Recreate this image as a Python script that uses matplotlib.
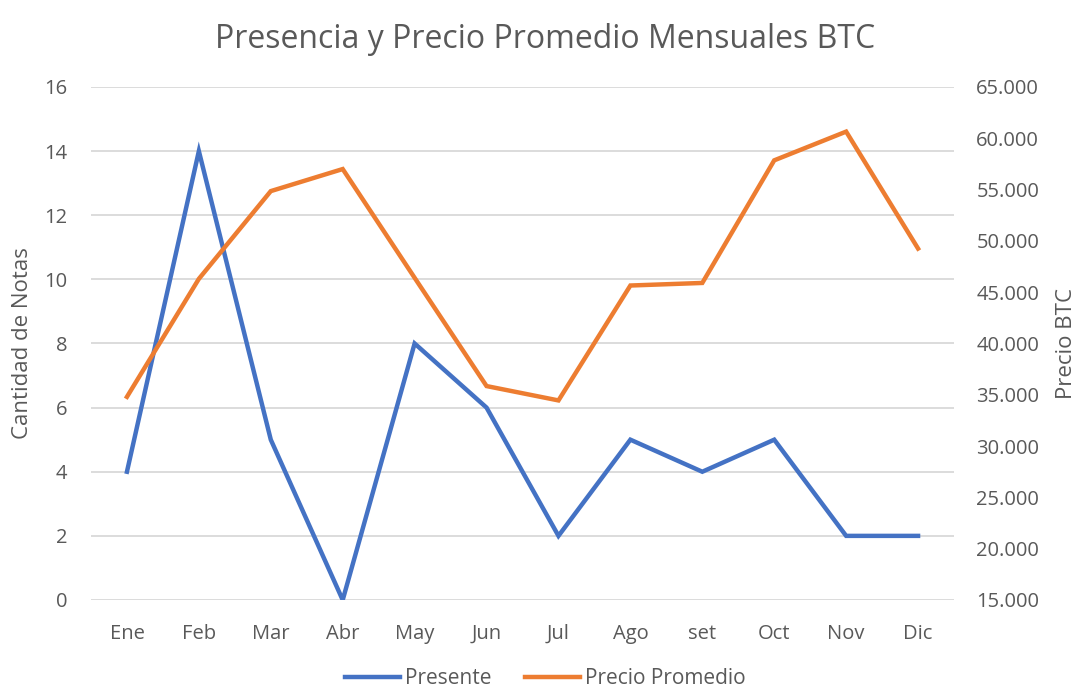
import matplotlib.pyplot as plt
from matplotlib.ticker import FuncFormatter, MultipleLocator

# datos
meses = ['Ene', 'Feb', 'Mar', 'Abr', 'May', 'Jun', 'Jul', 'Ago', 'set', 'Oct', 'Nov', 'Dic']
presente = [4, 14, 5, 0, 8, 6, 2, 5, 4, 5, 2, 2]
precio_promedio = [34800, 46300, 54850, 57000, 46400, 35850, 34450, 45650, 45900, 57850, 60650, 49250]

gris = '#595959'
azul = '#4472C4'
naranja = '#ED7D31'

plt.rcParams['font.family'] = ['Open Sans', 'DejaVu Sans']

fig = plt.figure(figsize=(10.78, 6.93), dpi=100)
ax = fig.add_axes([0.0844, 0.1342, 0.8006, 0.7403])
ax2 = ax.twinx()

x = range(len(meses))
l1, = ax.plot(x, presente, color=azul, lw=3.2, solid_joinstyle='miter', label='Presente')
l2, = ax2.plot(x, precio_promedio, color=naranja, lw=3.2, solid_joinstyle='miter', label='Precio Promedio')

ax.set_xlim(-0.5, len(meses) - 0.5)
ax.set_ylim(0, 16)
ax.yaxis.set_major_locator(MultipleLocator(2))
ax2.set_ylim(15000, 65000)
ax2.yaxis.set_major_locator(MultipleLocator(5000))
ax2.yaxis.set_major_formatter(FuncFormatter(lambda v, p: f'{int(v):,}'.replace(',', '.')))

ax.set_xticks(list(x))
ax.set_xticklabels(meses)
ax.grid(axis='y', color='#D9D9D9', lw=1.3)
ax.set_axisbelow(True)

for a in (ax, ax2):
    for s in a.spines.values():
        s.set_visible(False)
    a.tick_params(length=0, labelsize=14.5, colors=gris)
ax.tick_params(axis='y', pad=17)
ax.tick_params(axis='x', pad=17)
ax2.tick_params(axis='y', pad=16)

ax.set_ylabel('Cantidad de Notas', fontsize=16, color=gris, labelpad=8)
ax2.set_ylabel('Precio BTC', fontsize=16, color=gris, labelpad=12)

fig.suptitle('Presencia y Precio Promedio Mensuales BTC', fontsize=23, color=gris, x=0.506, y=0.967)

# leyenda abajo, sin marco
fig.legend(handles=[l1, l2], loc='lower center', bbox_to_anchor=(0.506, -0.022), ncol=2,
           frameon=False, fontsize=15, labelcolor=gris, handlelength=2.65,
           handletextpad=0.25, columnspacing=1.6)

fig.savefig('out.png', dpi=100)
